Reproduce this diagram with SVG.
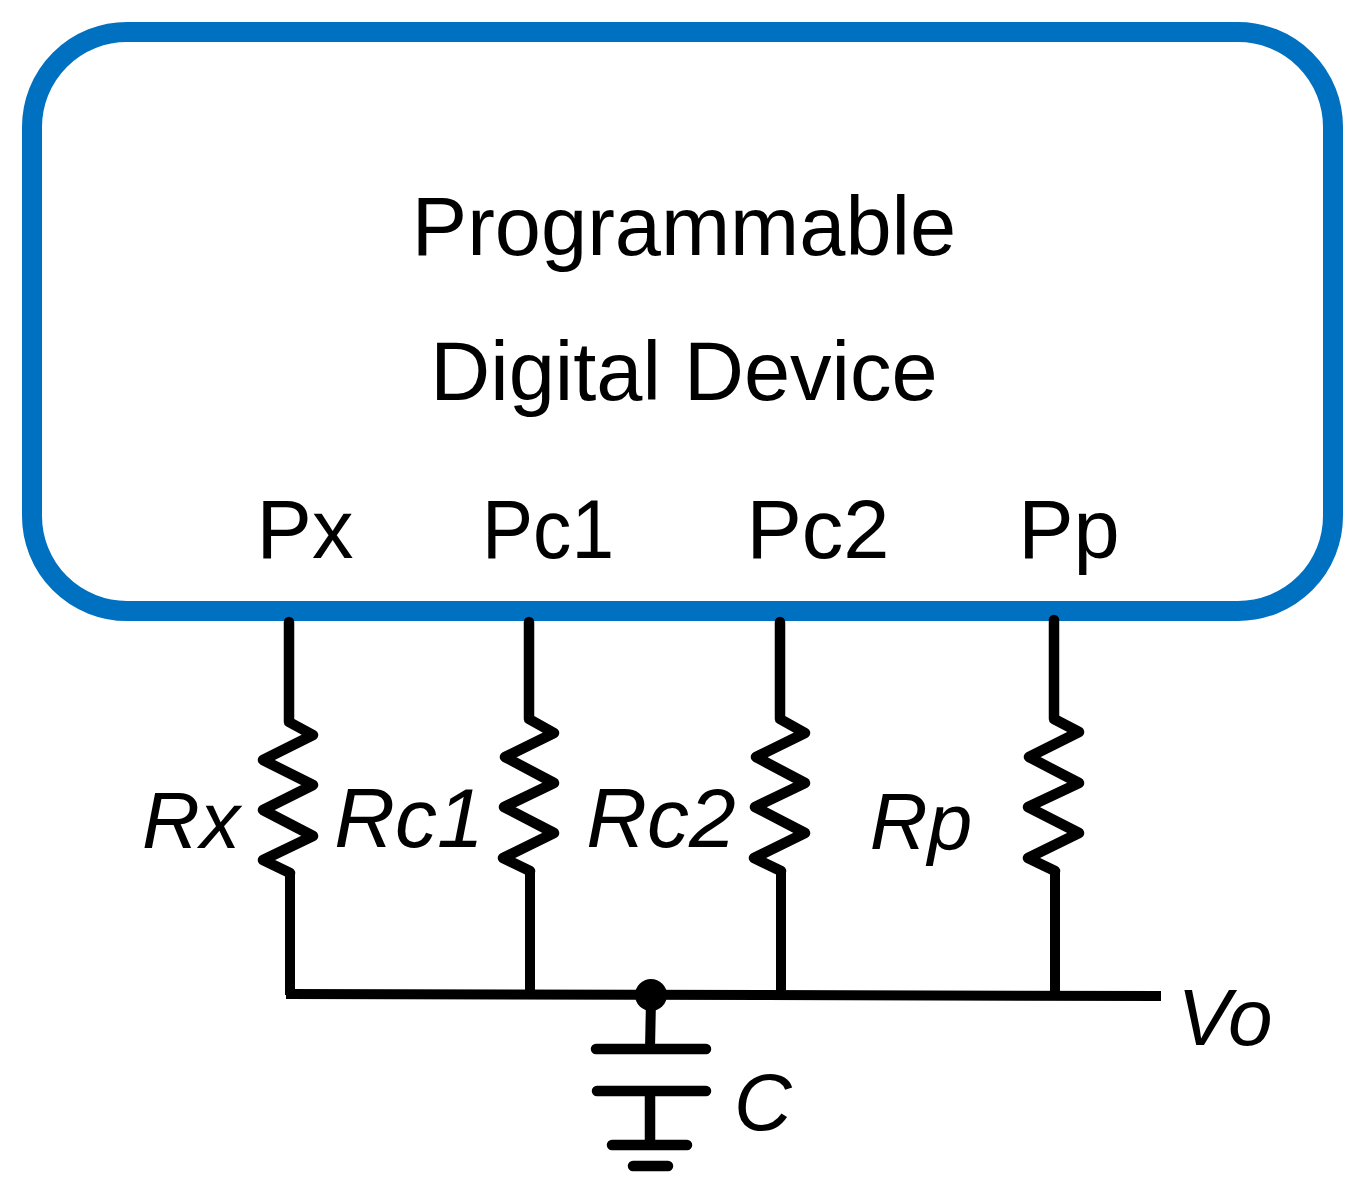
<svg xmlns="http://www.w3.org/2000/svg" width="1362" height="1185" viewBox="0 0 1362 1185">
<style>
.w{fill:none;stroke:#000;stroke-width:10.5;stroke-linecap:round;stroke-linejoin:round}
.b{fill:none;stroke:#000;stroke-width:10;stroke-linecap:butt;stroke-linejoin:round}
.t{font-family:"Liberation Sans",Arial,sans-serif;font-size:83px;fill:#000}
.i{font-style:italic;font-size:80px}
.j{font-style:italic;font-size:84px}
</style>
<rect width="1362" height="1185" fill="#fff"/>
<g id="device"><rect x="32" y="32" width="1301" height="579" rx="95" ry="95" fill="none" stroke="#0070c0" stroke-width="20"/>
<text class="t" x="684" y="255" text-anchor="middle">Programmable</text>
<text class="t" x="684" y="400" text-anchor="middle">Digital Device</text>
<text class="t" x="305" y="558" text-anchor="middle">Px</text>
<text class="t" x="548" y="558" text-anchor="middle" textLength="132" lengthAdjust="spacingAndGlyphs">Pc1</text>
<text class="t" x="818" y="558" text-anchor="middle">Pc2</text>
<text class="t" x="1069" y="558" text-anchor="middle">Pp</text>
</g>
<g id="connectors">
<path class="w" d="M289 622V722L313 735L263 760L313 785L263 810L313 836L263 860L290 873"/>
<path class="b" d="M290 873V995"/>
<path class="w" d="M529 622V719L554 733L505 757L554 783L504 807L554 833L503 858L530 871"/>
<path class="b" d="M530 871V995"/>
<path class="w" d="M780 622V719L805 733L756 757L805 783L755 807L805 833L754 858L781 871"/>
<path class="b" d="M781 871V995"/>
<path class="w" d="M1054 620V719L1079 732L1029 757L1079 783L1028 807L1079 833L1028 858L1055 871"/>
<path class="b" d="M1055 871V995"/>
<path class="b" d="M286 994L1161 996"/>
<path class="b" d="M651 1000L650 1049"/>
<path class="w" d="M596 1049H706M597 1091H706M650 1091V1145M612 1145H687M633 1166H668"/>
</g>
<g id="junction"><circle cx="651" cy="995" r="16" fill="#000"/></g>
<g id="labels">
<text class="t i" x="191" y="848" text-anchor="middle">Rx</text>
<text class="t j" x="409" y="847" text-anchor="middle">Rc1</text>
<text class="t j" x="661" y="847" text-anchor="middle">Rc2</text>
<text class="t i" x="921" y="849" text-anchor="middle">Rp</text>
<text class="t i" x="1225" y="1045" text-anchor="middle">Vo</text>
<text class="t i" x="763" y="1130" text-anchor="middle">C</text>
</g>
</svg>
